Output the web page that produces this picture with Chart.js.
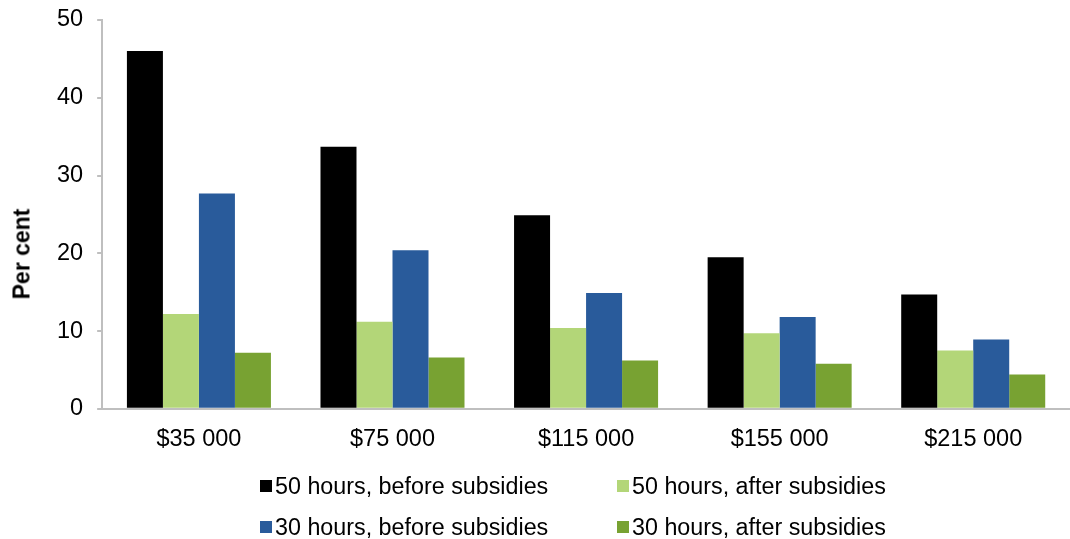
<!DOCTYPE html>
<html>
<head>
<meta charset="utf-8">
<script src="https://cdn.jsdelivr.net/npm/chart.js@4.4.1/dist/chart.umd.min.js"></script>
<style>
    html, body { margin: 0; padding: 0; background: #fff; }
    #wrap { position: relative; width: 1070px; height: 539px; }
    #legend { position: absolute; left: 0; top: 0; font-family: Arial, "Liberation Sans", sans-serif; font-size: 23.3px; color: #000; }
    .legend-item { position: absolute; white-space: nowrap; display: flex; align-items: center; height: 30px; }
    .legend-box { width: 12px; height: 12px; margin-right: 3px; }
    #ytitle {
        position: absolute; left: 22px; top: 254px;
        transform: translate(-50%, -50%) rotate(-90deg);
        font-family: Arial, "Liberation Sans", sans-serif; font-size: 23px; font-weight: bold;
        color: #000; white-space: nowrap; line-height: 1;
    }
</style>
</head>
<body>
<div id="wrap">
    <canvas id="chart" width="1070" height="539"></canvas>
    <div id="ytitle">Per cent</div>
    <div id="legend"></div>
</div>
<script>
const categories = ['$35 000', '$75 000', '$115 000', '$155 000', '$215 000'];
const seriesNames = ['50 hours, before subsidies', '50 hours, after subsidies', '30 hours, before subsidies', '30 hours, after subsidies'];
const fiftyBefore = [46.0, 33.7, 24.9, 19.5, 14.7];
const fiftyAfter = [12.2, 11.2, 10.4, 9.7, 7.5];
const thirtyBefore = [27.7, 20.4, 14.9, 11.8, 8.9];
const thirtyAfter = [7.2, 6.6, 6.2, 5.8, 4.4];
const yTicks = [0, 10, 20, 30, 40, 50];

const seriesColors = ['#000000', '#b3d678', '#295b9b', '#78a232'];
const seriesValues = [fiftyBefore, fiftyAfter, thirtyBefore, thirtyAfter];
const fontFamily = 'Arial, "Liberation Sans", sans-serif';
const axisColor = '#bfbfbf';

let datasets = [];
for (let i = 0; i < seriesNames.length; i++) {
    datasets.push({
        label: seriesNames[i],
        data: seriesValues[i],
        backgroundColor: seriesColors[i],
        borderWidth: 0,
        barPercentage: 1,
        categoryPercentage: 0.744
    });
}

// legend laid out by hand: two rows of two, like the source
const legendSpots = [
    { left: 260, top: 471 },
    { left: 617, top: 471 },
    { left: 260, top: 512 },
    { left: 617, top: 512 }
];
let legend = document.getElementById('legend');
for (let i = 0; i < seriesNames.length; i++) {
    let item = document.createElement('div');
    item.setAttribute('class', 'legend-item');
    item.setAttribute('style', 'left: ' + legendSpots[i].left + 'px; top: ' + legendSpots[i].top + 'px;');

    let box = document.createElement('div');
    box.setAttribute('class', 'legend-box');
    box.setAttribute('style', 'background: ' + seriesColors[i] + ';');

    let text = document.createElement('span');
    text.textContent = seriesNames[i];

    item.appendChild(box);
    item.appendChild(text);
    legend.appendChild(item);
}

new Chart(document.getElementById('chart'), {
    type: 'bar',
    data: {
        labels: categories,
        datasets: datasets
    },
    options: {
        responsive: false,
        animation: false,
        devicePixelRatio: 1,
        layout: {
            // left room is for the html axis title (sits below the middle in the source)
            padding: { top: 0, right: 0, bottom: 76, left: 43 }
        },
        plugins: {
            legend: { display: false },
            tooltip: { enabled: false }
        },
        scales: {
            x: {
                grid: { display: false },
                border: { display: true, color: axisColor, width: 2 },
                ticks: {
                    color: '#000',
                    padding: 9,
                    font: { family: fontFamily, size: 23.5 }
                }
            },
            y: {
                min: 0,
                max: 50,
                afterBuildTicks: function (scale) {
                    scale.ticks = yTicks.map(v => ({ value: v }));
                },
                // tick padding gets added above the top label too; keep the top tight
                afterFit: function (scale) {
                    scale.paddingTop = 20;
                },
                grid: {
                    drawOnChartArea: false,
                    drawTicks: true,
                    tickLength: 5,
                    color: axisColor,
                    lineWidth: 2
                },
                border: { display: true, color: axisColor, width: 2 },
                ticks: {
                    color: '#000',
                    padding: 14,
                    font: { family: fontFamily, size: 23.5 }
                }
            }
        }
    }
});
</script>
</body>
</html>
